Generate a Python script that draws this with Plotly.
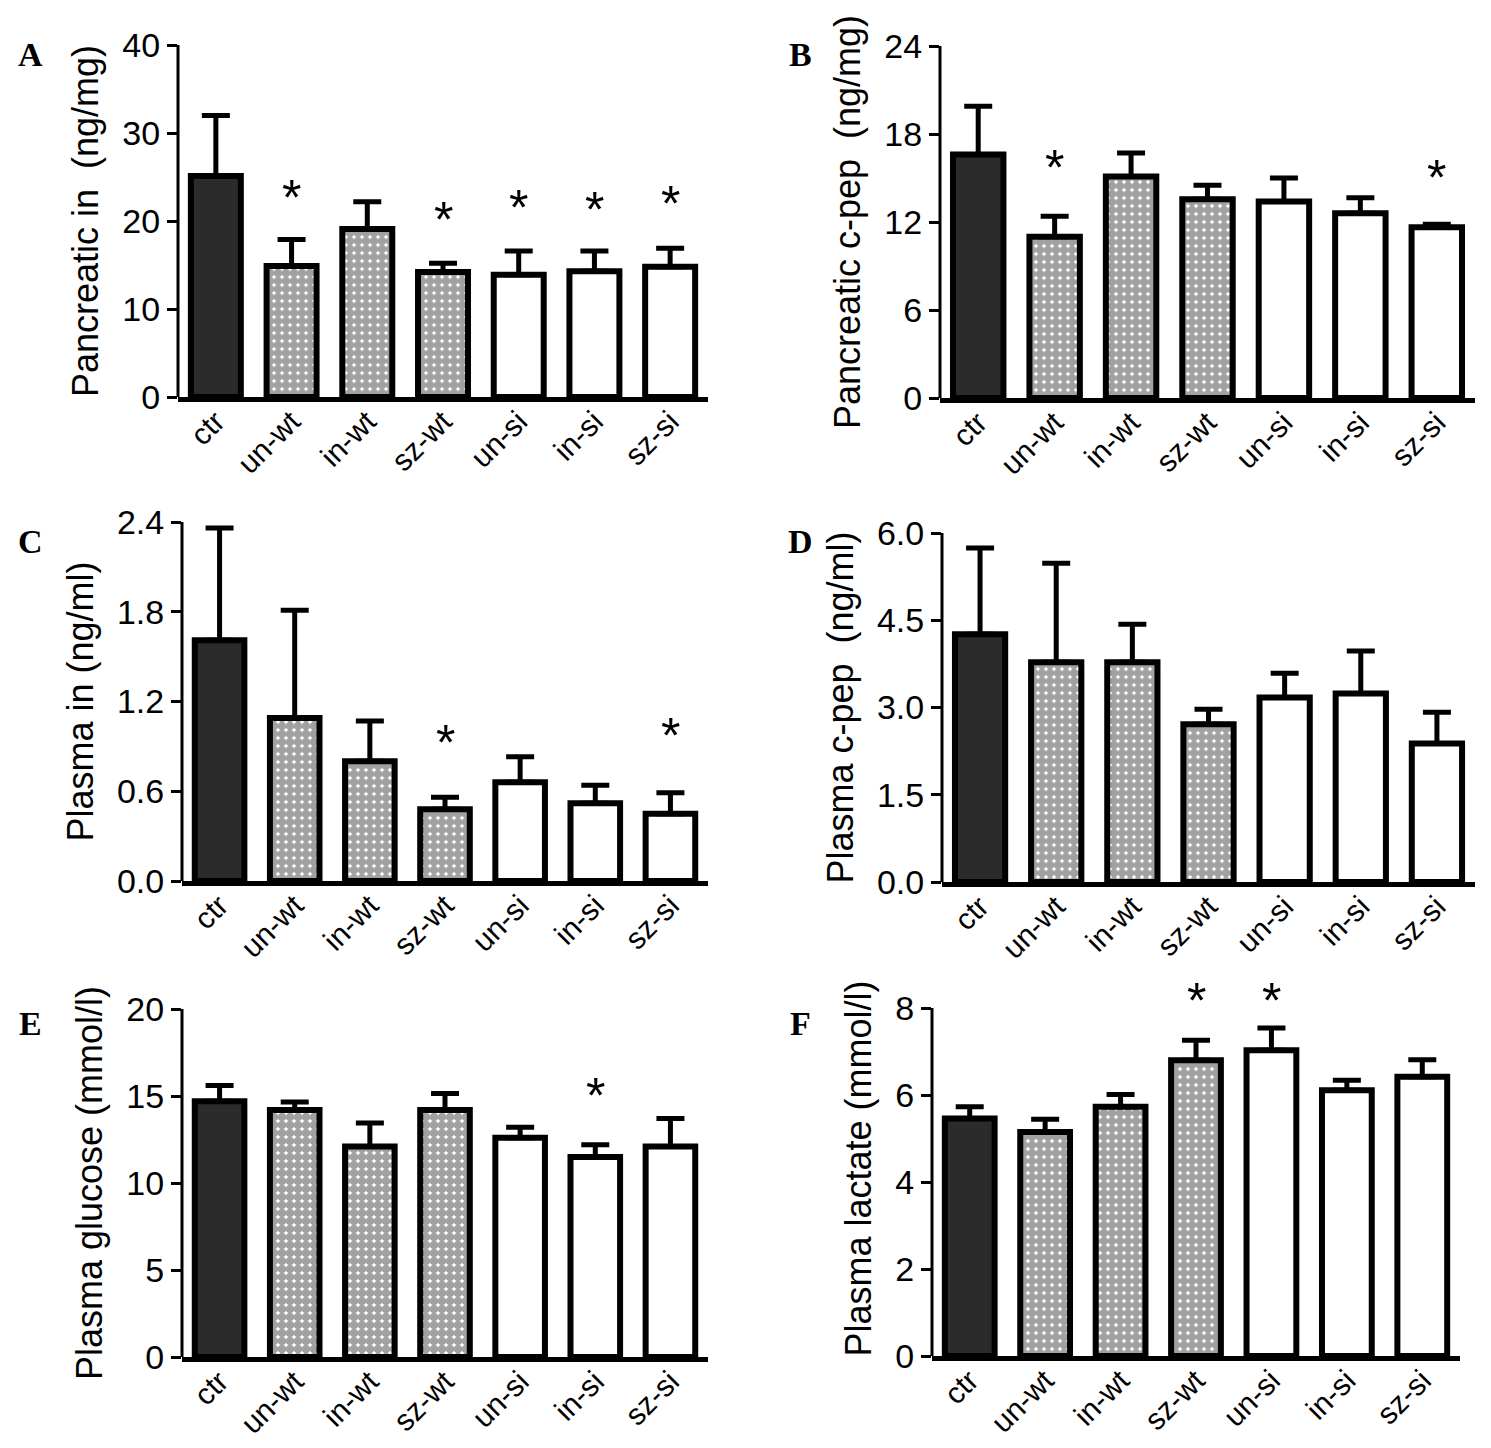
import plotly.graph_objects as go
from plotly.subplots import make_subplots

groups = ["ctr", "un-wt", "in-wt", "sz-wt", "un-si", "in-si", "sz-si"]

# panel A: pancreatic insulin (ng/mg)
a_mean = [25.1, 14.9, 19.1, 14.2, 13.9, 14.3, 14.8]
a_sem = [6.9, 3.0, 3.1, 1.0, 2.7, 2.3, 2.1]
a_star = [None, 23.6, None, 21.1, 22.5, 22.3, 23.0]

# panel B: pancreatic c-peptide (ng/mg)
b_mean = [16.6, 11.0, 15.1, 13.55, 13.4, 12.6, 11.65]
b_sem = [3.3, 1.4, 1.6, 0.95, 1.6, 1.05, 0.2]
b_star = [None, 16.3, None, None, None, None, 15.6]

# panel C: plasma insulin (ng/ml)
c_mean = [1.61, 1.09, 0.80, 0.48, 0.66, 0.52, 0.45]
c_sem = [0.75, 0.72, 0.27, 0.08, 0.17, 0.12, 0.14]
c_star = [None, None, None, 0.98, None, None, 1.03]

# panel D: plasma c-peptide (ng/ml)
d_mean = [4.26, 3.78, 3.78, 2.71, 3.17, 3.24, 2.38]
d_sem = [1.48, 1.70, 0.65, 0.26, 0.42, 0.73, 0.54]
d_star = [None] * 7

# panel E: plasma glucose (mmol/l)
e_mean = [14.7, 14.2, 12.1, 14.2, 12.6, 11.5, 12.1]
e_sem = [0.9, 0.45, 1.35, 0.95, 0.6, 0.7, 1.6]
e_star = [None, None, None, None, None, 15.5, None]

# panel F: plasma lactate (mmol/l)
f_mean = [5.46, 5.15, 5.73, 6.80, 7.03, 6.11, 6.42]
f_sem = [0.27, 0.29, 0.28, 0.46, 0.51, 0.23, 0.39]
f_star = [None, None, None, 8.37, 8.37, None, None]

panels = [
    ("A", a_mean, a_sem, a_star, "Pancreatic in  (ng/mg)", [0, 10, 20, 30, 40], None),
    ("B", b_mean, b_sem, b_star, "Pancreatic c-pep  (ng/mg)", [0, 6, 12, 18, 24], None),
    ("C", c_mean, c_sem, c_star, "Plasma in (ng/ml)", [0, 0.6, 1.2, 1.8, 2.4], ".1f"),
    ("D", d_mean, d_sem, d_star, "Plasma c-pep  (ng/ml)", [0, 1.5, 3.0, 4.5, 6.0], ".1f"),
    ("E", e_mean, e_sem, e_star, "Plasma glucose (mmol/l)", [0, 5, 10, 15, 20], None),
    ("F", f_mean, f_sem, f_star, "Plasma lactate (mmol/l)", [0, 2, 4, 6, 8], None),
]

# the page body adds an 8px margin, so the figure is drawn 8px in
PAD = 8
W, H = 1491 - 2 * PAD, 1448 - 2 * PAD

# pixel boxes (page coords) of each plot area: left, right, top tick, bottom
boxes = [
    (178, 708, 45, 397),
    (940, 1475, 46, 398),
    (182, 708, 522, 881),
    (942, 1475, 533, 882),
    (182, 708, 1009, 1357),
    (932, 1460, 1008, 1356),
]
letter_pos = [(30, 55), (800, 55), (30, 541), (800, 541), (30, 1023), (800, 1023)]


def px(x):
    return (x - PAD) / W


def py(y):
    return 1 - (y - PAD) / H


fill = ["#2b2b2b", "white", "white", "white", "white", "white", "white"]
shapes = ["", ".", ".", ".", "", "", ""]

fig = make_subplots(rows=3, cols=2)
font = "Liberation Sans, Arial, sans-serif"

for i, (letter, mean, sem, star, title, ticks, fmt) in enumerate(panels):
    r, c = i // 2 + 1, i % 2 + 1
    n = i + 1
    xr = "x" if n == 1 else f"x{n}"
    yr = "y" if n == 1 else f"y{n}"
    fig.add_trace(go.Bar(
        x=groups, y=mean, width=0.66,
        marker=dict(color=fill, line=dict(color="black", width=6),
                    pattern=dict(shape=shapes, fgcolor="black", bgcolor="white",
                                 size=8, solidity=0.82)),
        error_y=dict(type="data", symmetric=False, array=sem,
                     arrayminus=[0] * 7, color="black", thickness=5, width=14),
        showlegend=False,
    ), row=r, col=c)

    stars = [s for s in star if s is not None]
    ymax = ticks[-1]
    if stars and max(stars) > ymax:
        ymax = max(stars) * 1.03

    for g, s in zip(groups, star):
        if s is None:
            continue
        fig.add_annotation(
            x=g, y=s, xref=xr, yref=yr, text="*", showarrow=False,
            yshift=-9, font=dict(family=font, size=50, color="black"),
        )

    L, R, T, B = boxes[i]
    T = B - (B - T) * ymax / ticks[-1]
    xa = "xaxis" if n == 1 else f"xaxis{n}"
    ya = "yaxis" if n == 1 else f"yaxis{n}"
    fig.layout[xa].update(
        domain=[px(L), px(R)], range=[-0.5, 6.5], showline=True, linewidth=5,
        linecolor="black", ticks="", tickangle=-45, automargin=False,
        ticklabelstandoff=-10,
        tickfont=dict(family=font, size=30, color="black"), showgrid=False,
    )
    fig.layout[ya].update(
        domain=[py(B), py(T)], range=[0, ymax], tickvals=ticks,
        tickformat=fmt, showline=False, automargin=False,
        ticks="outside", ticklen=10, tickwidth=3, tickcolor="black",
        tickfont=dict(family=font, size=34, color="black"), showgrid=False,
        zeroline=False,
        title=dict(text=title, font=dict(family=font, size=36, color="black"),
                   standoff=12),
    )
    # y axis line up to the top tick only
    fig.add_shape(type="line", xref=f"{xr} domain", yref=yr, x0=0, x1=0,
                  y0=0, y1=ticks[-1], line=dict(color="black", width=3))

    lx, ly = letter_pos[i]
    fig.add_annotation(
        x=px(lx), y=py(ly), xref="paper", yref="paper", text=f"<b>{letter}</b>",
        showarrow=False, xanchor="center", yanchor="middle",
        font=dict(family="Liberation Serif, Times New Roman, serif", size=34, color="black"),
    )

fig.update_layout(
    width=W, height=H, margin=dict(l=0, r=0, t=0, b=0),
    paper_bgcolor="white", plot_bgcolor="white", bargap=0.3,
)

fig.write_html("out.html")
